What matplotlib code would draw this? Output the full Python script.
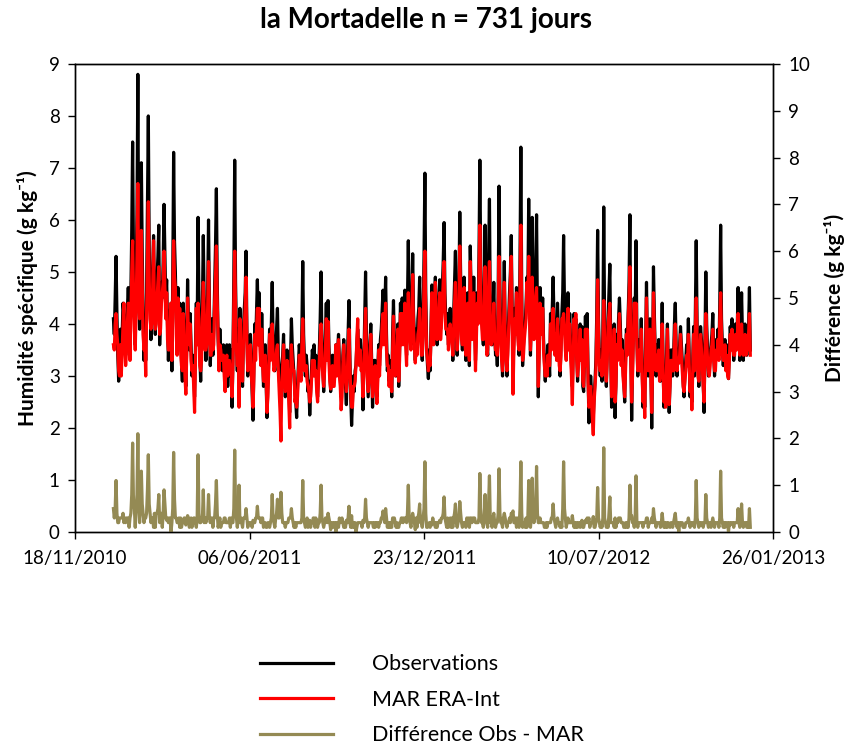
import numpy as np
import pandas as pd
import matplotlib
matplotlib.use("Agg")
import matplotlib.pyplot as plt
import matplotlib.dates as mdates

plt.rcParams['font.family'] = ['Lato', 'DejaVu Sans']

start_date = "2011-01-01"

# Observed specific humidity (g/kg), daily
obs = [
    4.1, 3.8, 4.5, 5.3, 4.2, 3.4, 2.9, 3.3, 3.9, 3.3,
    3.8, 4.4, 4.2, 3.9, 3.4, 3.8, 4.3, 4.7, 4.2, 3.6,
    4.6, 5.8, 7.5, 5.2, 4.4, 3.6, 4.8, 6.1, 8.8, 5.0,
    3.9, 5.2, 7.1, 5.4, 4.2, 3.3, 4.0, 3.3, 4.6, 6.2,
    8.0, 5.5, 4.5, 3.7, 4.3, 5.0, 5.7, 4.6, 3.8, 4.4,
    4.9, 5.3, 5.9, 3.6, 4.2, 4.8, 4.5, 5.2, 6.3, 5.3,
    4.4, 4.85, 4.0, 3.3, 3.8, 4.2, 4.4, 3.1, 4.9, 7.3,
    5.6, 5.0, 4.1, 3.6, 4.7, 4.0, 4.4, 3.8, 3.3, 2.9,
    4.4, 3.9, 3.3, 2.8, 3.6, 4.85, 4.0, 3.5, 4.2, 3.6,
    3.0, 3.4, 3.1, 2.6, 3.5, 4.4, 3.9, 6.05, 4.5, 3.4,
    2.9, 3.6, 4.4, 5.7, 4.5, 3.8, 3.3, 3.9, 4.6, 6.0,
    4.4, 3.2, 3.7, 4.1, 3.4, 3.9, 4.7, 5.5, 6.6, 4.8,
    3.7, 3.3, 3.9, 3.4, 3.5, 3.1, 3.6, 3.3, 3.0, 3.5,
    3.6, 2.8, 3.3, 3.6, 3.0, 3.5, 2.4, 3.4, 4.9, 7.15,
    4.8, 3.8, 3.1, 3.9, 3.4, 4.3, 3.6, 3.2, 2.8, 3.9,
    4.3, 4.6, 5.4, 3.9, 3.0, 3.4, 3.6, 3.8, 3.2, 2.7,
    2.15, 3.2, 4.0, 3.6, 4.2, 4.85, 3.9, 4.6, 3.8, 3.4,
    4.2, 3.5, 2.8, 3.1, 3.6, 2.9, 2.2, 2.8, 3.3, 3.9,
    3.5, 4.0, 4.8, 3.7, 3.3, 3.1, 3.6, 3.9, 4.3, 3.4,
    3.0, 2.7, 2.6, 3.2, 3.4, 3.8, 3.1, 2.6, 3.0, 3.5,
    3.2, 2.8, 2.3, 3.3, 4.1, 3.6, 3.3, 3.0, 2.7, 2.5,
    2.2, 2.8, 3.2, 3.6, 3.4, 3.1, 3.9, 5.2, 3.8, 3.3,
    3.0, 3.4, 3.2, 2.7, 2.9, 2.25, 2.7, 3.1, 3.5, 3.3,
    3.6, 3.0, 3.4, 2.9, 2.6, 3.1, 3.5, 4.1, 5.0, 3.6,
    3.2, 2.7, 3.3, 3.8, 4.4, 3.5, 4.45, 3.6, 3.1, 2.7,
    3.1, 3.4, 2.9, 3.0, 3.3, 3.6, 3.2, 3.5, 3.8, 3.3,
    3.0, 2.6, 2.9, 3.4, 3.7, 3.2, 2.8, 2.45, 3.2, 3.8,
    4.45, 3.4, 2.6, 2.05, 2.5, 3.0, 2.7, 3.1, 3.2, 3.6,
    3.9, 3.6, 3.4, 3.7, 3.3, 3.3, 2.35, 3.2, 4.1, 5.0,
    3.8, 3.2, 2.6, 3.1, 3.6, 4.0, 3.3, 2.4, 2.9, 3.3,
    3.3, 3.0, 2.6, 3.1, 3.6, 3.2, 3.7, 3.9, 4.3, 4.65,
    3.9, 4.2, 4.9, 3.8, 3.1, 3.4, 2.9, 3.3, 3.0, 2.6,
    3.8, 4.45, 3.6, 3.2, 3.0, 3.6, 4.0, 2.8, 3.5, 4.4,
    3.9, 4.5, 3.8, 4.1, 4.65, 3.9, 3.4, 4.4, 5.6, 4.3,
    3.9, 3.6, 4.4, 5.35, 4.2, 3.8, 3.3, 3.9, 3.5, 4.1,
    4.3, 4.9, 4.0, 3.6, 3.3, 4.1, 5.3, 6.9, 4.6, 3.6,
    3.2, 2.95, 3.5, 3.1, 3.9, 4.75, 4.3, 3.8, 4.4, 4.9,
    4.2, 3.6, 4.0, 4.4, 4.85, 3.9, 4.3, 4.7, 5.2, 5.95,
    4.6, 4.1, 3.8, 4.2, 3.6, 4.0, 4.3, 3.7, 4.0, 3.3,
    4.2, 4.8, 5.4, 4.1, 3.4, 4.0, 4.7, 6.15, 4.9, 3.9,
    3.5, 4.2, 4.9, 3.8, 3.3, 3.9, 4.6, 3.8, 3.2, 5.5,
    4.6, 3.9, 4.3, 4.9, 4.2, 3.3, 3.9, 4.6, 4.2, 5.3,
    7.15, 5.2, 4.2, 3.9, 3.6, 4.5, 5.9, 4.4, 3.6, 3.4,
    5.3, 6.4, 4.2, 3.9, 3.6, 4.2, 4.8, 3.9, 3.4, 3.7,
    3.2, 4.6, 6.65, 4.7, 3.8, 3.5, 3.0, 4.1, 5.2, 4.0,
    3.5, 3.0, 3.6, 4.1, 4.6, 5.0, 5.7, 4.3, 3.1, 3.7,
    4.3, 4.1, 4.7, 4.2, 3.8, 3.4, 5.2, 7.4, 4.6, 3.2,
    3.6, 3.9, 4.0, 4.4, 4.9, 4.6, 6.4, 4.5, 3.4, 4.2,
    6.05, 4.6, 3.9, 4.5, 5.0, 6.1, 4.2, 2.6, 3.6, 4.7,
    4.2, 4.0, 4.5, 3.7, 3.3, 2.9, 3.4, 3.1, 3.6, 3.4,
    3.0, 4.2, 3.8, 4.3, 4.9, 4.1, 3.6, 3.9, 3.5, 4.4,
    3.9, 3.4, 3.0, 3.6, 4.2, 4.6, 5.7, 4.4, 3.8, 3.4,
    4.0, 4.6, 3.7, 4.2, 3.6, 3.2, 2.8, 3.5, 4.2, 3.8,
    4.1, 3.5, 2.9, 3.4, 3.7, 4.0, 3.5, 3.95, 2.8, 2.7,
    3.5, 4.15, 3.4, 4.2, 3.1, 2.1, 2.6, 3.0, 2.7, 2.4,
    2.2, 2.6, 2.9, 3.3, 4.2, 5.8, 4.1, 3.4, 3.0, 3.5,
    2.9, 3.8, 6.25, 4.0, 3.3, 2.8, 3.5, 4.1, 4.6, 5.15,
    3.6, 2.4, 3.1, 3.6, 4.0, 2.2, 2.9, 3.8, 3.5, 4.1,
    4.5, 4.0, 3.4, 3.7, 3.2, 2.9, 2.5, 3.3, 3.9, 3.6,
    4.2, 4.8, 6.1, 3.6, 2.15, 3.2, 3.9, 4.5, 4.1, 5.6,
    3.8, 3.0, 3.4, 3.7, 3.3, 4.1, 3.2, 2.4, 3.0, 2.4,
    3.6, 4.8, 3.7, 3.0, 3.5, 4.1, 3.2, 2.0, 3.3, 5.1,
    4.2, 3.5, 3.0, 3.6, 3.3, 3.7, 3.1, 2.9, 3.5, 4.4,
    3.3, 2.4, 3.1, 2.5, 3.4, 4.0, 3.2, 2.3, 2.9, 3.5,
    3.5, 3.0, 3.3, 4.0, 4.4, 3.6, 3.0, 3.5, 3.25, 3.6,
    3.95, 3.6, 3.3, 2.9, 2.6, 3.0, 3.3, 3.6, 3.4, 4.1,
    3.4, 2.6, 3.2, 2.5, 3.3, 3.95, 3.0, 4.2, 5.6, 4.0,
    3.2, 2.8, 3.5, 3.95, 3.7, 3.4, 2.9, 2.3, 3.6, 5.0,
    4.0, 3.5, 3.0, 3.2, 3.4, 3.6, 3.8, 4.2, 3.5, 3.0,
    3.3, 3.7, 3.6, 3.9, 3.4, 4.4, 5.9, 4.1, 3.6, 3.2,
    3.5, 3.7, 3.3, 3.6, 3.2, 2.95, 3.5, 3.95, 3.7, 4.1,
    3.8, 3.3, 3.6, 4.0, 3.7, 3.9, 4.7, 3.8, 3.3, 3.9,
    4.6, 3.8, 3.3, 3.7, 4.0, 3.6, 3.4, 3.7, 3.9, 4.7,
    3.5,
]

# MAR forced by ERA-Interim (g/kg), daily
mar = [
    3.6, 3.5, 4.0, 4.2, 3.8, 3.6, 3.1, 3.0, 3.6, 3.0,
    3.5, 4.0, 4.4, 3.6, 3.2, 3.5, 4.0, 4.4, 4.3, 3.3,
    4.2, 5.0, 5.6, 4.6, 3.9, 3.5, 4.3, 5.3, 6.7, 4.4,
    4.1, 4.7, 5.8, 4.8, 3.8, 3.5, 3.7, 3.0, 4.2, 5.3,
    6.35, 4.9, 4.1, 3.9, 4.0, 4.7, 5.6, 4.2, 3.9, 4.0,
    4.5, 4.8, 5.1, 3.8, 3.9, 4.4, 4.6, 4.8, 5.4, 4.7,
    4.1, 4.6, 3.7, 3.5, 3.5, 3.9, 4.4, 3.3, 4.4, 5.6,
    4.9, 4.7, 3.8, 3.4, 4.5, 3.7, 4.3, 3.5, 3.2, 3.1,
    4.2, 3.6, 3.0, 2.65, 3.4, 4.5, 3.7, 3.6, 4.0, 3.3,
    3.1, 3.2, 2.8, 2.3, 3.3, 4.3, 3.6, 4.4, 4.1, 3.2,
    3.1, 3.3, 4.1, 4.8, 4.3, 3.5, 3.5, 3.6, 4.3, 5.2,
    4.1, 3.4, 3.4, 3.8, 3.5, 3.6, 4.4, 4.9, 5.5, 4.4,
    3.8, 3.1, 3.6, 3.5, 3.3, 3.3, 3.4, 3.0, 2.7, 3.3,
    3.4, 3.0, 3.1, 3.3, 3.1, 3.2, 2.6, 3.2, 4.4, 5.4,
    4.3, 3.5, 3.2, 3.6, 2.4, 4.1, 3.3, 3.0, 2.9, 3.6,
    4.0, 4.3, 4.9, 3.6, 3.1, 3.2, 3.4, 3.6, 3.0, 2.8,
    2.4, 3.0, 3.8, 3.3, 3.9, 4.3, 3.6, 4.3, 3.5, 3.2,
    3.9, 3.2, 2.9, 2.9, 3.4, 3.0, 2.3, 2.6, 3.1, 3.8,
    3.3, 3.7, 4.0, 3.4, 3.1, 3.2, 3.3, 3.5, 3.6, 3.1,
    2.7, 2.3, 1.75, 2.8, 3.2, 3.6, 2.9, 2.7, 2.8, 3.3,
    3.0, 2.5, 2.0, 3.0, 3.6, 3.3, 3.1, 3.1, 2.5, 2.6,
    2.4, 2.6, 3.0, 3.4, 3.2, 2.9, 3.6, 4.1, 3.5, 3.1,
    3.1, 3.2, 2.9, 2.8, 2.7, 2.5, 2.6, 2.9, 3.3, 3.0,
    3.3, 3.1, 3.1, 2.7, 2.5, 2.9, 3.3, 3.7, 4.0, 3.3,
    3.0, 2.8, 3.1, 3.5, 4.1, 3.3, 4.05, 3.3, 2.9, 2.75,
    2.9, 3.2, 2.8, 2.8, 3.1, 3.6, 3.0, 3.3, 3.7, 3.0,
    2.8, 2.35, 2.6, 3.2, 3.6, 3.0, 2.9, 2.7, 3.0, 3.5,
    3.9, 3.2, 2.7, 2.4, 2.4, 2.8, 2.8, 2.9, 3.2, 3.7,
    4.1, 3.4, 3.2, 3.5, 3.1, 3.2, 2.6, 3.0, 3.8, 4.3,
    3.5, 3.0, 2.7, 2.9, 3.4, 3.8, 3.1, 2.6, 2.8, 3.1,
    3.2, 2.8, 2.47, 2.9, 3.5, 3.0, 3.5, 3.6, 4.0, 4.2,
    3.6, 4.0, 4.4, 3.5, 3.2, 3.2, 2.8, 3.1, 2.9, 2.7,
    3.5, 4.15, 3.3, 3.0, 3.1, 3.4, 3.9, 2.9, 3.3, 4.2,
    3.6, 4.2, 3.6, 3.8, 4.4, 3.6, 3.2, 4.0, 4.6, 4.0,
    3.7, 3.5, 4.1, 4.95, 3.9, 3.6, 3.25, 3.6, 3.4, 3.8,
    3.9, 4.3, 3.8, 3.4, 3.4, 3.8, 4.8, 5.4, 4.2, 3.5,
    3.3, 3.1, 3.3, 3.2, 3.7, 4.6, 4.0, 3.6, 4.2, 4.8,
    4.0, 3.7, 3.8, 4.2, 4.6, 3.7, 4.0, 4.4, 4.8, 5.2,
    4.3, 3.9, 3.9, 3.9, 3.5, 3.8, 4.0, 3.8, 3.7, 3.4,
    3.9, 4.4, 4.8, 3.9, 3.5, 3.8, 4.4, 5.5, 4.5, 3.7,
    3.6, 4.0, 4.7, 3.6, 3.4, 3.6, 4.4, 3.5, 3.3, 5.2,
    4.3, 3.7, 4.0, 4.6, 3.9, 3.1, 3.7, 4.4, 4.0, 5.0,
    5.9, 4.7, 4.0, 3.7, 3.7, 4.2, 5.1, 4.1, 3.4, 3.5,
    4.7, 5.2, 4.0, 3.6, 3.7, 3.9, 4.4, 3.7, 3.5, 3.5,
    3.4, 4.2, 5.3, 4.3, 3.6, 3.3, 3.1, 3.8, 4.8, 3.7,
    3.3, 3.1, 3.4, 3.9, 4.3, 4.8, 5.3, 3.9, 2.65, 3.5,
    4.1, 3.8, 4.6, 3.9, 3.6, 3.5, 4.7, 5.9, 4.2, 3.3,
    3.4, 3.7, 3.9, 4.1, 4.8, 4.3, 5.3, 4.1, 3.5, 3.9,
    4.9, 4.2, 3.7, 4.2, 4.5, 4.7, 3.8, 2.8, 3.4, 4.4,
    4.0, 3.8, 4.3, 3.5, 3.2, 3.0, 3.2, 3.0, 3.4, 3.2,
    3.2, 4.0, 3.5, 4.0, 4.3, 3.8, 3.4, 3.8, 3.3, 4.1,
    3.7, 3.2, 3.1, 3.4, 4.1, 4.1, 4.2, 3.9, 3.5, 3.3,
    3.8, 4.3, 3.5, 4.0, 3.4, 3.0, 2.45, 3.3, 4.1, 3.6,
    4.2, 3.3, 3.0, 3.2, 3.5, 3.9, 3.3, 3.7, 2.9, 2.8,
    3.3, 3.9, 3.2, 3.9, 2.9, 2.4, 2.5, 2.8, 2.5, 2.2,
    1.87, 2.5, 2.8, 3.1, 3.9, 4.85, 3.8, 3.2, 3.1, 3.3,
    3.0, 3.5, 4.45, 3.7, 3.1, 2.9, 3.3, 4.0, 4.2, 4.4,
    3.4, 2.6, 2.9, 3.4, 3.9, 2.5, 2.8, 3.6, 3.3, 3.8,
    4.2, 3.7, 3.2, 3.5, 3.0, 2.8, 2.6, 3.1, 3.8, 3.4,
    4.1, 4.5, 5.1, 3.3, 2.5, 3.0, 3.7, 4.4, 3.8, 4.4,
    3.6, 3.1, 3.2, 3.5, 3.1, 3.9, 3.0, 2.5, 2.8, 2.2,
    3.4, 4.5, 3.4, 3.1, 3.3, 3.9, 3.0, 2.3, 3.1, 4.6,
    3.9, 3.3, 3.1, 3.4, 3.1, 3.5, 2.9, 3.0, 3.3, 4.0,
    3.1, 2.5, 2.9, 2.4, 3.2, 3.9, 3.0, 2.45, 2.8, 3.3,
    3.3, 3.1, 3.1, 3.7, 4.0, 3.4, 3.1, 3.3, 3.25, 3.4,
    3.8, 3.4, 3.1, 2.8, 2.7, 2.9, 3.1, 3.4, 3.2, 3.8,
    3.2, 2.7, 3.0, 2.35, 3.1, 3.8, 3.1, 3.9, 4.5, 3.7,
    3.0, 2.9, 3.3, 3.8, 3.5, 3.2, 2.8, 2.5, 3.4, 4.2,
    3.7, 3.3, 3.1, 3.0, 3.2, 3.5, 3.6, 3.9, 3.3, 3.1,
    3.1, 3.5, 3.4, 3.7, 3.3, 4.1, 4.6, 3.8, 3.4, 3.3,
    3.3, 3.6, 3.1, 3.4, 3.0, 2.95, 3.3, 3.8, 3.5, 3.9,
    3.6, 3.4, 3.4, 3.8, 3.5, 3.7, 4.2, 3.6, 3.4, 3.7,
    4.0, 3.6, 3.4, 3.5, 3.8, 3.4, 3.5, 3.5, 3.8, 4.2,
    3.4,
]

dates = pd.date_range(start_date, periods=len(obs), freq="D")
obs_arr = np.array(obs)
mar_arr = np.array(mar)
diff = np.abs(obs_arr - mar_arr)

x_ticks = pd.date_range("2010-11-18", periods=5, freq="200D")

fig = plt.figure(figsize=(8.46, 7.49), dpi=100)
ax = fig.add_axes([0.0887, 0.2897, 0.8250, 0.6249])
ax2 = ax.twinx()

l_obs, = ax.plot(dates, obs_arr, color="black", lw=2.3, label="Observations")
l_mar, = ax.plot(dates, mar_arr, color="#FF0000", lw=2.3, label="MAR ERA-Int")
l_diff, = ax2.plot(dates, diff, color="#948A54", lw=2.3, label="Différence Obs - MAR")

ax.set_xlim(x_ticks[0], x_ticks[-1])
ax.set_ylim(0, 9)
ax2.set_ylim(0, 10)
ax.set_yticks(range(0, 10))
ax2.set_yticks(range(0, 11))
ax.set_xticks(x_ticks)
ax.xaxis.set_major_formatter(mdates.DateFormatter("%d/%m/%Y"))

for a in (ax, ax2):
    for s in a.spines.values():
        s.set_linewidth(1.0)
        s.set_color("black")
    a.tick_params(labelsize=13.5, length=5, width=1.0, direction="out", colors="black")
ax.tick_params(axis="x", pad=8)
ax.tick_params(axis="y", pad=6)
ax2.tick_params(axis="y", pad=6)

ax.set_ylabel("Humidité spécifique (g kg⁻¹)", fontsize=15, fontweight="bold", labelpad=8)
ax2.set_ylabel("Différence (g kg⁻¹)", fontsize=15, fontweight="bold", labelpad=10)
fig.suptitle("la Mortadelle n = 731 jours", fontsize=20, fontweight="bold", x=0.503, y=0.99)

fig.legend(handles=[l_obs, l_mar, l_diff], loc="upper left", bbox_to_anchor=(0.297, 0.138),
           frameon=False, fontsize=15.5, handlelength=3.4, handletextpad=1.8,
           labelspacing=0.72, borderaxespad=0)

fig.savefig("out.png", dpi=100)
